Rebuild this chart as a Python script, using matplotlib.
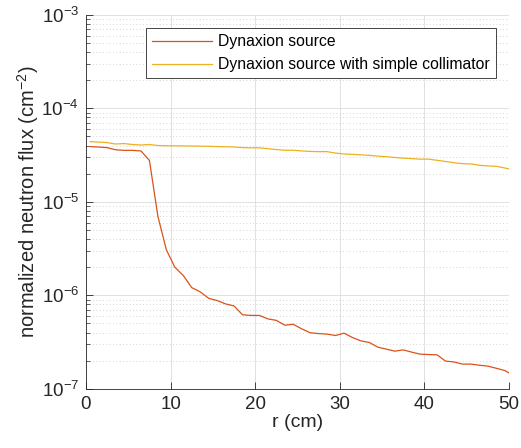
import numpy as np
import matplotlib
matplotlib.use("Agg")
import matplotlib.pyplot as plt
from matplotlib.ticker import LogLocator, NullFormatter

plt.rcParams['font.family'] = ['Liberation Sans', 'DejaVu Sans']
plt.rcParams['mathtext.fontset'] = 'custom'
plt.rcParams['mathtext.rm'] = 'Liberation Sans'
plt.rcParams['mathtext.it'] = 'Liberation Sans:italic'
plt.rcParams['mathtext.bf'] = 'Liberation Sans:bold'

# radial positions (cm)
r = np.append(np.arange(0.5, 50, 1), 50.0)

flux_source = [
    3.9e-5, 3.85e-5, 3.8e-5, 3.6e-5, 3.55e-5, 3.55e-5, 3.5e-5, 2.77e-5, 7.0e-6, 3.07e-6,
    2.0e-6, 1.63e-6, 1.21e-6, 1.09e-6, 9.3e-7, 8.8e-7, 8.1e-7, 7.7e-7, 6.2e-7, 6.1e-7,
    6.1e-7, 5.6e-7, 5.4e-7, 4.8e-7, 4.9e-7, 4.38e-7, 3.98e-7, 3.9e-7, 3.85e-7, 3.72e-7,
    3.94e-7, 3.54e-7, 3.26e-7, 3.13e-7, 2.79e-7, 2.66e-7, 2.53e-7, 2.61e-7, 2.47e-7, 2.35e-7,
    2.33e-7, 2.31e-7, 1.98e-7, 1.94e-7, 1.84e-7, 1.84e-7, 1.79e-7, 1.75e-7, 1.66e-7, 1.57e-7,
    1.48e-7,
]

flux_collimator = [
    4.4e-5, 4.35e-5, 4.3e-5, 4.15e-5, 4.2e-5, 4.1e-5, 4.05e-5, 4.1e-5, 4.0e-5, 3.98e-5,
    3.97e-5, 3.96e-5, 3.95e-5, 3.94e-5, 3.92e-5, 3.9e-5, 3.88e-5, 3.86e-5, 3.8e-5, 3.78e-5,
    3.78e-5, 3.7e-5, 3.62e-5, 3.56e-5, 3.56e-5, 3.5e-5, 3.46e-5, 3.44e-5, 3.44e-5, 3.32e-5,
    3.25e-5, 3.22e-5, 3.18e-5, 3.14e-5, 3.08e-5, 3.04e-5, 2.98e-5, 2.93e-5, 2.9e-5, 2.86e-5,
    2.86e-5, 2.78e-5, 2.7e-5, 2.62e-5, 2.56e-5, 2.54e-5, 2.46e-5, 2.42e-5, 2.4e-5, 2.3e-5,
    2.25e-5,
]

labels = ["Dynaxion source", "Dynaxion source with simple collimator"]
colors = ["#D95319", "#EDB120"]

fig = plt.figure(figsize=(5.21, 4.48), dpi=100)
ax = fig.add_axes([0.165, 0.132, 0.812, 0.835])

ax.plot(r, flux_source, color=colors[0], lw=0.9, label=labels[0])
ax.plot(r, flux_collimator, color=colors[1], lw=0.9, label=labels[1])

ax.set_yscale('log')
ax.set_xlim(0, 50)
ax.set_ylim(1e-7, 1e-3)
ax.set_xticks([0, 10, 20, 30, 40, 50])
ax.yaxis.set_major_locator(LogLocator(base=10, numticks=10))
ax.yaxis.set_minor_locator(LogLocator(base=10, subs=np.arange(2, 10), numticks=10))
ax.yaxis.set_minor_formatter(NullFormatter())

ax.grid(True, which='major', color='#dcdcdc', lw=0.6)
ax.grid(True, which='minor', axis='y', color='#c8c8c8', lw=0.6, linestyle=(0, (1, 3)))
ax.set_axisbelow(True)

for s in ['top', 'right']:
    ax.spines[s].set_visible(False)
for s in ['left', 'bottom']:
    ax.spines[s].set_color('#262626')
    ax.spines[s].set_linewidth(0.6)

ax.tick_params(which='both', direction='in', colors='#262626', labelsize=13.5)
ax.tick_params(which='major', length=5, width=0.6, pad=5)
ax.tick_params(which='minor', length=3, width=0.5)

ax.set_xlabel("r (cm)", fontsize=14, color='#262626', labelpad=1)
ax.set_ylabel("normalized neutron flux (cm$^{-2}$)", fontsize=14.5, color='#262626', labelpad=0)

leg = ax.legend(loc='upper right', bbox_to_anchor=(0.969, 0.965), fontsize=11.3,
                frameon=True, fancybox=False, handlelength=3.8, handletextpad=0.4,
                borderpad=0.4, labelspacing=0.5, borderaxespad=0)
leg.get_frame().set_edgecolor('#262626')
leg.get_frame().set_linewidth(0.6)
leg.get_frame().set_alpha(1)

fig.savefig("out.png", dpi=100)
